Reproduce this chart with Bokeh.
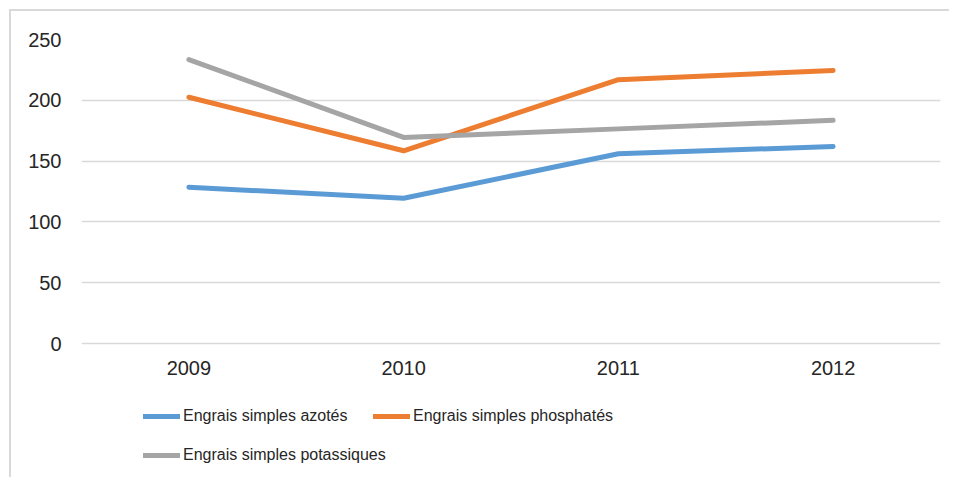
from bokeh.plotting import figure
from bokeh.models import FactorRange, Range1d, FixedTicker, Legend, LegendItem
from bokeh.embed import file_html
from bokeh.resources import INLINE

years = ["2009", "2010", "2011", "2012"]
azotes = [128.5, 119.5, 156, 162]
phosphates = [202.5, 158.5, 217, 224.5]
potassiques = [233.5, 169.5, 176.5, 183.5]
labels = ["Engrais simples azotés", "Engrais simples phosphatés", "Engrais simples potassiques"]
colors = ["#5b9bd5", "#ed7d31", "#a5a5a5"]
y_ticks = [0, 50, 100, 150, 200, 250]

W, H = 940, 468
TOP, BOTTOM = 28, 4          # borders around the frame
PX_PER_UNIT = 304 / 250      # 0 -> 250 spans 304 px
frame_h = H - TOP - BOTTOM
y_bottom = 250 - frame_h / PX_PER_UNIT

p = figure(width=W, height=H, x_range=FactorRange(*years), y_range=Range1d(y_bottom, 250),
           x_axis_location="above",
           output_backend="svg", toolbar_location=None,
           min_border_left=70, min_border_right=11, min_border_top=TOP, min_border_bottom=BOTTOM)
p.outline_line_color = None
p.background_fill_color = "white"
p.border_fill_color = "white"
p.styles = {"margin-left": "9px", "margin-top": "9px",
            "border-left": "2px solid #d9d9d9", "border-top": "2px solid #d9d9d9"}

p.xgrid.grid_line_color = None
p.ygrid.grid_line_color = "#d9d9d9"
p.ygrid.grid_line_width = 1.5
p.yaxis.ticker = FixedTicker(ticks=y_ticks)

for ax in (p.xaxis[0], p.yaxis[0]):
    ax.axis_line_color = None
    ax.major_tick_line_color = None
    ax.minor_tick_line_color = None
    ax.major_tick_out = 0
    ax.major_tick_in = 0
    ax.major_label_text_font = "Liberation Sans"
    ax.major_label_text_font_size = "20px"
    ax.major_label_text_color = "#262626"
p.xaxis.fixed_location = 0
p.xaxis.major_label_standoff = -31
p.yaxis.major_label_standoff = 20

renderers = []
for vals, col in zip([azotes, phosphates, potassiques], colors):
    r = p.line(x=years, y=vals, line_width=5, line_color=col, line_cap="round", line_join="round")
    renderers.append(r)

frame_bottom_page = 11 + H - BOTTOM
rows = [415.7, 415.7, 455]
xs = [62, 292, 62]
for lab, r, vx, cy in zip(labels, renderers, xs, rows):
    lg = Legend(items=[LegendItem(label=lab, renderers=[r])],
                location=(vx, frame_bottom_page - (cy + 10)),
                glyph_width=37, glyph_height=20, label_height=20, label_standoff=3,
                padding=0, margin=0, spacing=0, border_line_color=None,
                background_fill_alpha=0,
                label_text_font="Liberation Sans", label_text_font_size="16px",
                label_text_color="#262626")
    p.add_layout(lg, "center")

open("out.html", "w").write(file_html(p, INLINE))
